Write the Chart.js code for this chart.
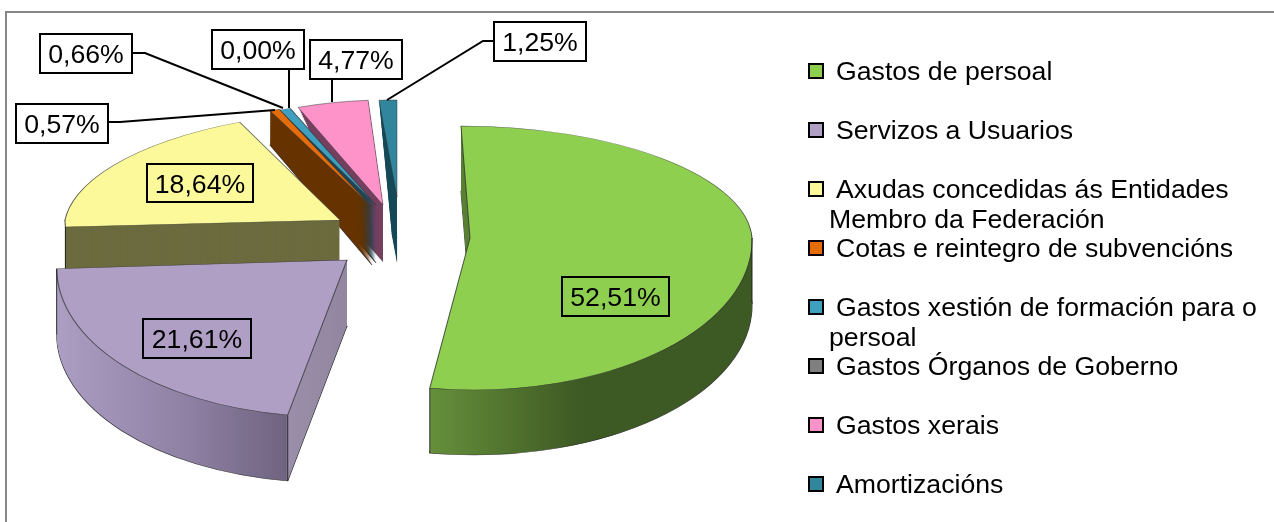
<!DOCTYPE html>
<html>
<head>
<meta charset="utf-8">
<style>
    html, body { margin: 0; padding: 0; background: #fff; }
    canvas { display: block; }
</style>
<script src="https://cdn.jsdelivr.net/npm/chart.js@4"></script>
</head>
<body>
<canvas id="gastosChart" width="1274" height="522"></canvas>
<script>
const categories = [
    'Gastos de persoal',
    'Servizos a Usuarios',
    'Axudas concedidas ás Entidades',
    'Cotas e reintegro de subvencións',
    'Gastos xestión de formación para o',
    'Gastos Órganos de Goberno',
    'Gastos xerais',
    'Amortizacións'
];
const secondLines = ['', '', 'Membro da Federación', '', 'persoal', '', '', ''];
const percentages = [52.51, 21.61, 18.64, 0.57, 0.66, 0.00, 4.77, 1.25];
const topColors = ['#8fcf50', '#af9fc5', '#fbf99a', '#e46c0a', '#3f9fbe', '#7f7f7f', '#fe93c9', '#31859c'];
const wallColors = ['#3e5a24', '#8f84a3', '#6b6b3f', '#663300', '#1f4555', '#444444', '#75405f', '#174a58'];

const FONT = '26.67px "Liberation Sans", Arial, sans-serif';

// the original is a perspective 3D pie, so every exploded slice has its own view
const views = [
    { x: 470, y: 238, sx: 282, up: 112, down: 152, skewUp: 9, skewDown: 4, depth: 65 },
    { x: 347, y: 260, sx: 290, up: 157, down: 157, skewUp: -14, skewDown: -14, depth: 66 },
    { x: 340, y: 220, sx: 275, up: 109, down: 125, skewUp: -23, skewDown: 0, depth: 55 },
    { x: 372, y: 207, sx: 275, up: 107, down: 107, skewUp: -21, skewDown: 0, depth: 58, stretch: 0.25 },
    { x: 376, y: 205, sx: 275, up: 104, down: 104, skewUp: -17, skewDown: 0, depth: 58, stretch: 0.2 },
    { x: 376, y: 205, sx: 275, up: 104, down: 104, skewUp: -17, skewDown: 0, depth: 58 },
    { x: 383, y: 205, sx: 240, up: 105, down: 105, skewUp: -4, skewDown: 0, depth: 57, taper: 0.7 },
    { x: 397, y: 197, sx: 230, up: 97, down: 97, skewUp: 0, skewDown: 0, depth: 65, taper: 0.7 }
];
const drawOrder = [7, 6, 5, 4, 3, 2, 0, 1];

// horizontal shading of the rims, page x from/to and colour stops
const wallShades = {
    0: { from: 430, to: 752, stops: [[0, '#648e3a'], [0.45, '#3e5a24'], [1, '#3e5a24']] },
    1: { from: 57, to: 348, stops: [[0, '#ad9fc3'], [0.5, '#8d80a3'], [0.835, '#6f6480'], [0.84, '#9a8eaa'], [1, '#91859f']] }
};

const labelBoxes = [
    [562, 277, 107, 39], [143, 319, 108, 39], [147, 164, 106, 38], [16, 104, 92, 39],
    [40, 34, 92, 39], [212, 30, 92, 39], [310, 40, 92, 39], [494, 22, 92, 39]
];
const leaders = [
    [[108, 122], [120, 122], [275, 110]],
    [[132, 53], [145, 53], [283, 108]],
    [[289, 69], [289, 108]],
    [[332, 79], [332, 102]],
    [[494, 41], [483, 41], [387, 100]]
];

function drawSliceLayer(ctx, arc, view, lift, f, colors, border) {
    const R = arc.outerRadius;
    const keep = arc.options;
    const k = 1 - (view.taper || 0) * f;
    const up = view.up * k * (1 + (view.stretch || 0) * f);
    arc.options = Object.assign({}, keep, colors, { borderWidth: border ? 1 : 0 });
    [[up, view.skewUp, 0, view.y + lift + 1], [view.down * k, view.skewDown, view.y + lift, 522]].forEach(function(half) {
        ctx.save();
        ctx.beginPath();
        ctx.rect(0, half[2], 1274, half[3] - half[2]);
        ctx.clip();
        ctx.transform(view.sx * k / R, 0, half[1] * k / R, half[0] / R, view.x, view.y + lift);
        ctx.translate(-arc.x, -arc.y);
        arc.draw(ctx);
        ctx.restore();
    });
    arc.options = keep;
}

function wallFill(ctx, arc, view, index) {
    const shade = wallShades[index];
    if (!shade) {
        return wallColors[index];
    }
    const R = arc.outerRadius;
    const local = function(px) { return arc.x + (px - view.x) * R / view.sx; };
    const g = ctx.createLinearGradient(local(shade.from), 0, local(shade.to), 0);
    shade.stops.forEach(function(s) { g.addColorStop(s[0], s[1]); });
    return g;
}

// page position of a rim point, used for the vertical corner lines
function rimPoint(view, angle) {
    const ux = Math.cos(angle);
    const uy = Math.sin(angle);
    return {
        x: view.x + view.sx * ux + (uy < 0 ? view.skewUp : view.skewDown) * uy,
        y: view.y + (uy < 0 ? view.up : view.down) * uy
    };
}

const pie3d = {
    id: 'pie3d',
    beforeDatasetsDraw(chart) {
        const ctx = chart.ctx;
        const arcs = chart.getDatasetMeta(0).data;
        drawOrder.forEach(function(i) {
            const arc = arcs[i];
            const view = views[i];
            if (arc.circumference === 0) {
                return;
            }
            const fill = wallFill(ctx, arc, view, i);
            drawSliceLayer(ctx, arc, view, view.depth, 1, { backgroundColor: fill, borderColor: 'rgba(30,30,30,0.8)' }, true);
            for (let d = view.depth - 1; d > 0; d--) {
                drawSliceLayer(ctx, arc, view, d, d / view.depth, { backgroundColor: fill, borderColor: fill }, false);
            }
            drawSliceLayer(ctx, arc, view, 0, 0, { backgroundColor: topColors[i], borderColor: 'rgba(50,50,50,0.75)' }, true);
            // silhouette and front corner lines of the big slices
            const corners = {
                0: [arc.endAngle, 0],
                1: [arc.startAngle, arc.endAngle],
                2: [arc.startAngle]
            }[i] || [];
            ctx.save();
            ctx.strokeStyle = 'rgba(25,25,25,0.85)';
            ctx.lineWidth = 1;
            corners.forEach(function(angle) {
                const p = rimPoint(view, angle);
                ctx.beginPath();
                ctx.moveTo(p.x, p.y);
                ctx.lineTo(p.x, p.y + view.depth);
                ctx.stroke();
            });
            ctx.restore();
        });
        return false;
    },
    afterDraw(chart) {
        const ctx = chart.ctx;
        ctx.save();
        // frame, only top and left are inside the picture
        ctx.fillStyle = '#868686';
        ctx.fillRect(5, 11, 1269, 2);
        ctx.fillRect(5, 11, 2, 511);

        ctx.strokeStyle = '#000';
        ctx.lineWidth = 2;
        leaders.forEach(function(line) {
            ctx.beginPath();
            line.forEach(function(p, i) {
                if (i === 0) ctx.moveTo(p[0], p[1]);
                else ctx.lineTo(p[0], p[1]);
            });
            ctx.stroke();
        });

        ctx.font = FONT;
        ctx.fillStyle = '#000';
        ctx.textAlign = 'center';
        ctx.textBaseline = 'alphabetic';
        percentages.forEach(function(v, i) {
            const b = labelBoxes[i];
            ctx.strokeRect(b[0], b[1], b[2], b[3]);
            ctx.fillText(v.toFixed(2).replace('.', ',') + '%', b[0] + b[2] / 2, b[1] + 29);
        });

        // legend, wrapped by hand like the original
        ctx.textAlign = 'left';
        categories.forEach(function(name, i) {
            const base = 80 + i * 59;
            ctx.fillStyle = topColors[i];
            ctx.fillRect(809, base - 16, 14, 14);
            ctx.strokeRect(809, base - 16, 14, 14);
            ctx.fillStyle = '#000';
            ctx.fillText(name, 836, base);
            if (secondLines[i]) {
                ctx.fillText(secondLines[i], 829, base + 30);
            }
        });
        ctx.restore();
    }
};

new Chart(document.getElementById('gastosChart').getContext('2d'), {
    type: 'pie',
    data: {
        labels: categories,
        datasets: [{
            data: percentages,
            backgroundColor: topColors,
            borderColor: '#333',
            borderWidth: 1
        }]
    },
    options: {
        responsive: false,
        animation: false,
        plugins: {
            legend: { display: false },
            tooltip: { enabled: false }
        }
    },
    plugins: [pie3d]
});
</script>
</body>
</html>
